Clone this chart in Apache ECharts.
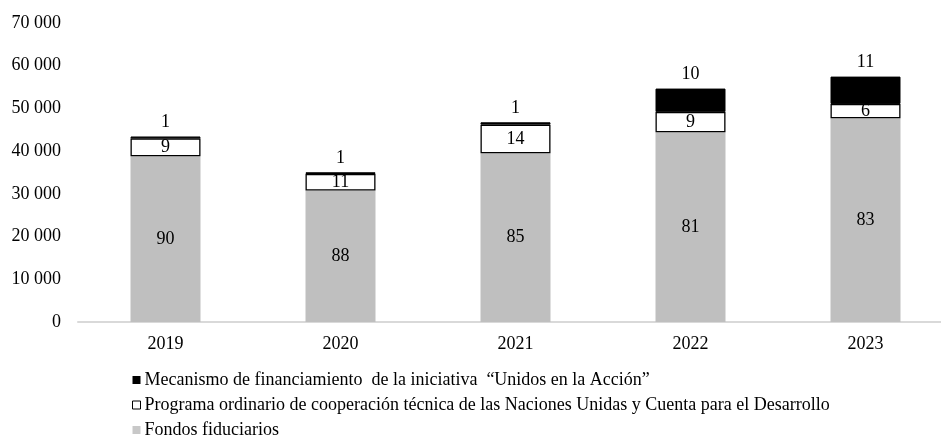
<!DOCTYPE html>
<html><head><meta charset="utf-8">
<script src="https://cdn.jsdelivr.net/npm/echarts@6/dist/echarts.min.js"></script>
<style>html,body{margin:0;padding:0;background:#fff}#c{width:941px;height:437px}</style>
</head><body><div id="c"></div>
<script>
var years = ['2019', '2020', '2021', '2022', '2023'];
var fondos = [38800, 30800, 39500, 44400, 47700];
var programa = [4200, 3850, 6700, 4800, 3350];
var mecanismo = [430, 400, 550, 5450, 6400];
var fondosPct = [90, 88, 85, 81, 83];
var programaPct = [9, 11, 14, 9, 6];
var mecanismoPct = [1, 1, 1, 10, 11];
var yTicks = [0, 10000, 20000, 30000, 40000, 50000, 60000, 70000];

var FONT = 'Liberation Serif';
var N1 = 'Mecanismo de financiamiento  de la iniciativa  “Unidos en la Acción”';
var N2 = 'Programa ordinario de cooperación técnica de las Naciones Unidas y Cuenta para el Desarrollo';
var N3 = 'Fondos fiduciarios';
function fmt(v){ return v === 0 ? '0' : (Math.floor(v/1000) + ' ' + String(v%1000).padStart(3,'0')); }
function pctLabel(arr){ return function(p){ return String(arr[p.dataIndex]); }; }

var chart = echarts.init(document.getElementById('c'), null, {renderer:'canvas'});
chart.setOption({
  animation: false,
  backgroundColor: '#fff',
  textStyle: {fontFamily: FONT, color: '#000'},
  grid: {left: 78, top: 23, bottom: 115, width: 875, containLabel: false, outerBoundsMode: 'none'},
  legend: {
    orient: 'vertical', left: 127, top: 366, height: 80, itemWidth: 8, itemHeight: 8, itemGap: 7,
    icon: 'rect',
    textStyle: {fontFamily: FONT, fontSize: 18, color: '#000', lineHeight: 18, padding: [0,0,0,-1]},
    data: [
      {name: N1, itemStyle: {borderWidth: 0}},
      {name: N2, itemStyle: {borderWidth: 1}},
      {name: N3, itemStyle: {color: '#c8c8c8'}}
    ]
  },
  xAxis: {
    type: 'category', data: years,
    axisLine: {show: true, lineStyle: {color: '#d9d9d9', width: 2}},
    axisTick: {show: false},
    axisLabel: {fontFamily: FONT, fontSize: 18, color: '#000', margin: 13}
  },
  yAxis: {
    type: 'value', min: yTicks[0], max: yTicks[yTicks.length-1], interval: yTicks[1]-yTicks[0],
    axisLine: {show: false}, axisTick: {show: false}, splitLine: {show: false},
    axisLabel: {fontFamily: FONT, fontSize: 18, color: '#000', margin: 17, formatter: fmt}
  },
  series: [
    {name: N3, type: 'bar', stack: 't', data: fondos, barWidth: 70,
     itemStyle: {color: '#bfbfbf'},
     label: {show: true, position: 'inside', fontFamily: FONT, fontSize: 18, color: '#000', formatter: pctLabel(fondosPct)}},
    {name: N2, type: 'bar', stack: 't', data: programa, barWidth: 70,
     itemStyle: {color: '#fff', borderColor: '#000', borderWidth: 1.3},
     label: {show: true, position: 'inside', fontFamily: FONT, fontSize: 18, color: '#000', formatter: pctLabel(programaPct)}},
    {name: N1, type: 'bar', stack: 't', data: mecanismo, barWidth: 70,
     itemStyle: {color: '#000', borderColor: '#000', borderWidth: 1},
     label: {show: true, position: 'top', distance: 5, fontFamily: FONT, fontSize: 18, color: '#000', formatter: pctLabel(mecanismoPct)}}
  ]
});
</script></body></html>
